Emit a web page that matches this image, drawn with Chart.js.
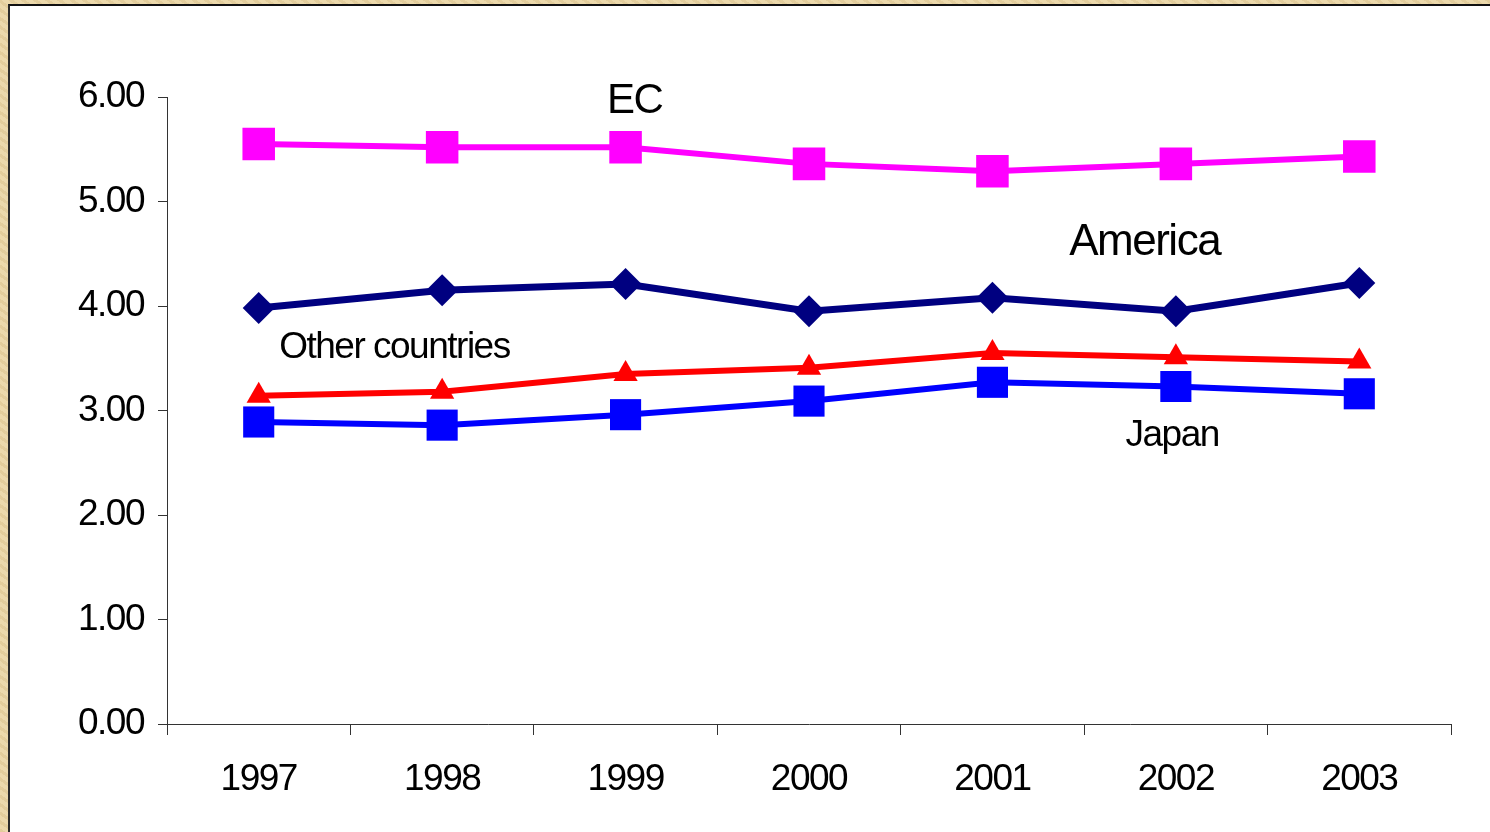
<!DOCTYPE html>
<html>
<head>
<meta charset="utf-8">
<title>Index by region, 1997-2003</title>
<script src="https://cdn.jsdelivr.net/npm/chart.js@4/dist/chart.umd.min.js"></script>
<style>
  html, body { margin: 0; padding: 0; width: 1490px; height: 832px; overflow: hidden; }
  body {
    position: relative;
    background-color: #e9d5a6;
    background-image:
      radial-gradient(ellipse 60px 30px at 30% 20%, rgba(255,245,215,0.6), transparent),
      radial-gradient(ellipse 80px 40px at 70% 60%, rgba(200,170,110,0.35), transparent),
      radial-gradient(ellipse 40px 90px at 10% 80%, rgba(250,235,195,0.5), transparent),
      repeating-linear-gradient(35deg, rgba(190,160,100,0.15) 0 3px, rgba(255,240,205,0.15) 3px 7px);
  }
  #panel {
    position: absolute; left: 8px; top: 4px; right: 0; bottom: 0;
    background: #fff;
    border-left: 2px solid #2a2a2a;
    border-top: 2px solid #111;
  }
  #chart { position: absolute; left: 0; top: 0; }
</style>
</head>
<body>
<div id="panel"></div>
<canvas id="chart" width="1490" height="832"></canvas>
<script>
'use strict';

const years = ['1997', '1998', '1999', '2000', '2001', '2002', '2003'];

const ecValues      = [5.55, 5.52, 5.52, 5.36, 5.29, 5.36, 5.43];
const americaValues = [3.98, 4.15, 4.21, 3.95, 4.08, 3.95, 4.22];
const otherValues   = [3.14, 3.18, 3.35, 3.41, 3.55, 3.51, 3.47];
const japanValues   = [2.89, 2.86, 2.96, 3.09, 3.27, 3.23, 3.16];

const yTicks = [0, 1, 2, 3, 4, 5, 6];

// series names written next to their lines (x = year index, y = value)
const seriesLabels = [
    { text: 'EC',              x: 2.05, y: 5.96, size: 42 },
    { text: 'America',         x: 4.83, y: 4.60, size: 44 },
    { text: 'Other countries', x: 0.74, y: 3.60, size: 37 },
    { text: 'Japan',           x: 4.98, y: 2.76, size: 37 }
];

const FONT = "'Liberation Sans', Arial, sans-serif";

// the labels in this chart are set a little tighter than the default
function tighten(chart) {
    chart.ctx.letterSpacing = '-1.5px';
}

const labelPlugin = {
    id: 'seriesLabels',
    beforeUpdate: tighten,
    beforeDraw: tighten,
    afterDatasetsDraw(chart) {
        const ctx = chart.ctx;
        const xs = chart.scales.x;
        const ys = chart.scales.y;
        ctx.save();
        ctx.fillStyle = '#000';
        ctx.textAlign = 'center';
        ctx.textBaseline = 'middle';
        seriesLabels.forEach(l => {
            ctx.font = l.size + 'px ' + FONT;
            ctx.fillText(l.text, xs.getPixelForValue(l.x), ys.getPixelForValue(l.y));
        });
        ctx.restore();
    }
};

function series(label, data, color, style, radius, width) {
    return {
        label: label,
        data: data,
        borderColor: color,
        backgroundColor: color,
        borderWidth: width,
        pointStyle: style,
        pointRadius: radius,
        pointHoverRadius: radius,
        pointBorderWidth: 0,
        tension: 0
    };
}

const ctx = document.getElementById('chart');
const chart = new Chart(ctx, {
    type: 'line',
    data: {
        labels: years,
        datasets: [
            series('Japan', japanValues, '#0000ff', 'rect', 22, 6),
            series('Other countries', otherValues, '#ff0000', 'triangle', 14, 6),
            series('America', americaValues, '#000080', 'rectRot', 16, 7),
            series('EC', ecValues, '#ff00ff', 'rect', 23, 6)
        ]
    },
    options: {
        responsive: false,
        animation: false,
        events: [],
        layout: { padding: { left: 0, right: 39, top: 97, bottom: 0 } },
        plugins: {
            legend: { display: false },
            tooltip: { enabled: false },
            title: { display: false }
        },
        scales: {
            x: {
                offset: true,
                grid: {
                    offset: true,
                    drawOnChartArea: false,
                    drawTicks: true,
                    tickLength: 11,
                    color: '#333'
                },
                border: { display: true, color: '#333', width: 1 },
                ticks: {
                    color: '#000',
                    font: { family: FONT, size: 37 },
                    padding: 23,
                    maxRotation: 0
                },
                afterFit(scale) { scale.height = 108; }
            },
            y: {
                min: 0,
                max: 6,
                afterBuildTicks(scale) {
                    scale.ticks = yTicks.map(v => ({ value: v }));
                },
                grid: {
                    drawOnChartArea: false,
                    drawTicks: true,
                    tickLength: 9,
                    color: '#333'
                },
                border: { display: true, color: '#333', width: 1 },
                ticks: {
                    color: '#000',
                    font: { family: FONT, size: 37 },
                    padding: 14,
                    callback: v => v.toFixed(2)
                },
                afterFit(scale) { scale.width = 167; }
            }
        }
    },
    plugins: [labelPlugin]
});
</script>
</body>
</html>
